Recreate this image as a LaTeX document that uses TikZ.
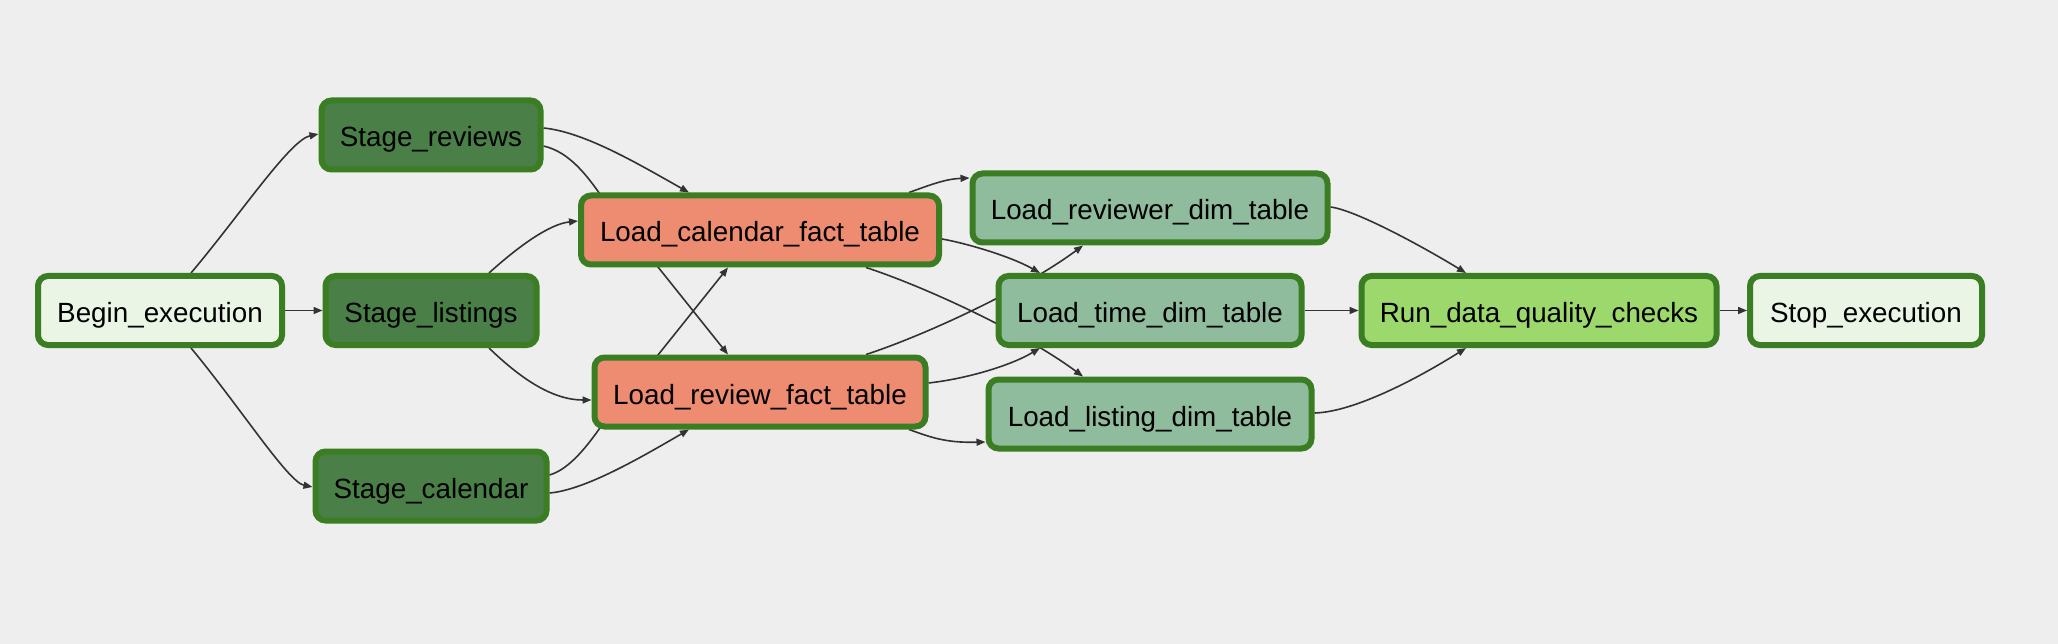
\documentclass[tikz,border=0pt]{standalone}
\usepackage{fontspec}
\setmainfont{Liberation Sans}
\usetikzlibrary{arrows.meta,calc}
\pgfdeclarelayer{bg}
\pgfdeclarelayer{edges}
\pgfsetlayers{bg,edges,main}
\definecolor{bgc}{HTML}{EEEEEE}
\definecolor{bordc}{HTML}{3B7D23}
\definecolor{startc}{HTML}{EBF5E6}
\definecolor{stagec}{HTML}{4A7F47}
\definecolor{factc}{HTML}{ED8C70}
\definecolor{dimc}{HTML}{8FBC9C}
\definecolor{dqc}{HTML}{9CD86B}
\definecolor{edgec}{HTML}{333333}
\begin{document}
\begin{tikzpicture}[x=1pt,y=-1pt,
  task/.style={draw=bordc, line width=6pt, rounded corners=10pt, inner sep=0pt,
    outer sep=3pt, minimum height=69pt, text height=24pt, text depth=0pt,
    font=\fontsize{27.8}{32}\selectfont, text=black},
  conn/.style={draw=edgec, line width=1.6pt, -{Triangle[length=9pt,width=7pt]}}]
\begin{pgfonlayer}{bg}
\fill[bgc] (0,0) rectangle (2058,644);
\end{pgfonlayer}
\useasboundingbox (0,0) rectangle (2058,644);

\node[task, fill=startc, minimum width=244pt] (be) at (160,310.5) {Begin\_execution};
\node[task, fill=stagec, minimum width=219pt] (sr) at (431,135) {Stage\_reviews};
\node[task, fill=stagec, minimum width=211pt] (sl) at (431,310.5) {Stage\_listings};
\node[task, fill=stagec, minimum width=231pt] (sc) at (431,486) {Stage\_calendar};
\node[task, fill=factc, minimum width=358pt] (lc) at (760,230) {Load\_calendar\_fact\_table};
\node[task, fill=factc, minimum width=331pt] (lr) at (760,392) {Load\_review\_fact\_table};
\node[task, fill=dimc, minimum width=355pt] (rv) at (1150,208) {Load\_reviewer\_dim\_table};
\node[task, fill=dimc, minimum width=303pt] (tm) at (1150,310.5) {Load\_time\_dim\_table};
\node[task, fill=dimc, minimum width=323pt] (ls) at (1150,414) {Load\_listing\_dim\_table};
\node[task, fill=dqc, minimum width=355pt] (rq) at (1539,310.5) {Run\_data\_quality\_checks};
\node[task, fill=startc, minimum width=232pt] (st) at (1866,310.5) {Stop\_execution};

\begin{pgfonlayer}{edges}
% Begin -> stages
\draw[conn] ($(be.north)+(31,0)$) .. controls (240,215) and (290,140) .. ($(sr.west)+(0,-1)$);
\draw[conn] (be.east) -- (sl.west);
\draw[conn] ($(be.south)+(31,0)$) .. controls (240,407) and (288,482) .. ($(sc.west)+(0,1)$);
% stages -> facts
\draw[conn] ($(sr.east)+(0,-7)$) .. controls (585,132) and (640,165) .. ($(lc.north)+(-71,0)$);
\draw[conn] ($(sr.east)+(0,11)$) .. controls (570,152) and (588,177) .. (602,197) -- ($(lr.north)+(-32,0)$);
\draw[conn] ($(sl.north)+(58,0)$) .. controls (520,245) and (550,224) .. ($(lc.west)+(0,-9)$);
\draw[conn] ($(sl.south)+(58,0)$) .. controls (520,378) and (552,400) .. ($(lr.west)+(0,8)$);
\draw[conn] ($(sc.east)+(0,7)$) .. controls (585,490) and (640,458) .. ($(lr.south)+(-71,0)$);
\draw[conn] ($(sc.east)+(0,-11)$) .. controls (570,469) and (588,445) .. (602,425) -- ($(lc.south)+(-32,0)$);
% facts -> dims
\draw[conn] ($(lc.north)+(149,0)$) .. controls (930,185) and (945,179) .. ($(rv.west)+(0,-30)$);
\draw[conn] ($(lc.east)+(0,9)$) .. controls (965,243) and (1010,256) .. ($(tm.north)+(-110,0)$);
\draw[conn] ($(lc.south)+(106,0)$) .. controls (920,285) and (1020,330) .. ($(ls.north)+(-67,0)$);
\draw[conn] ($(lr.north)+(106,0)$) .. controls (920,337) and (1020,292) .. ($(rv.south)+(-67,0)$);
\draw[conn] ($(lr.east)+(0,-9)$) .. controls (965,379) and (1010,366) .. ($(tm.south)+(-110,0)$);
\draw[conn] ($(lr.south)+(149,0)$) .. controls (930,437) and (945,443) .. ($(ls.west)+(0,28)$);
% dims -> checks
\draw[conn] ($(rv.east)+(0,-1)$) .. controls (1355,210) and (1420,245) .. ($(rq.north)+(-73,0)$);
\draw[conn] (tm.east) -- (rq.west);
\draw[conn] ($(ls.east)+(0,-1)$) .. controls (1355,412) and (1420,377) .. ($(rq.south)+(-73,0)$);
\draw[conn] (rq.east) -- (st.west);
\end{pgfonlayer}
\end{tikzpicture}
\end{document}
